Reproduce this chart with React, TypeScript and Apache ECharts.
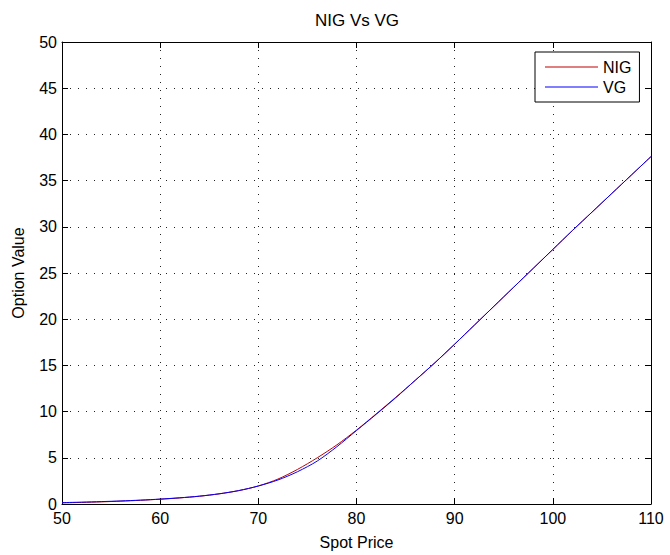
import React, { useEffect, useRef } from "react";
import * as echarts from "echarts";

const spot = [50, 52, 54, 56, 58, 60, 62, 64, 66, 68, 70, 72, 74, 76, 78, 80, 82, 84, 86, 88, 90, 92, 94, 96, 98, 100, 102, 104, 106, 108, 110];
const nigValues = [0.12, 0.17, 0.23, 0.31, 0.4, 0.52, 0.66, 0.84, 1.1, 1.45, 1.95, 2.7, 3.75, 5.0, 6.4, 8.0, 9.75, 11.55, 13.4, 15.3, 17.3, 19.35, 21.4, 23.45, 25.5, 27.55, 29.6, 31.6, 33.6, 35.6, 37.6];
const vgValues = [0.15, 0.2, 0.26, 0.33, 0.42, 0.53, 0.67, 0.85, 1.1, 1.45, 1.95, 2.6, 3.5, 4.65, 6.2, 7.95, 9.7, 11.5, 13.4, 15.3, 17.3, 19.35, 21.4, 23.45, 25.5, 27.55, 29.6, 31.6, 33.6, 35.6, 37.6];
const seriesNames = ["NIG", "VG"];
const titleText = "NIG Vs VG";
const xLabel = "Spot Price";
const yLabel = "Option Value";

const FONT = "'Liberation Sans', Arial, Helvetica, sans-serif";

export default function App() {
  const ref = useRef<HTMLDivElement>(null);
  useEffect(() => {
    if (!ref.current) return;
    const chart = echarts.init(ref.current, undefined, { renderer: "svg" });
    const nig = spot.map((x, i) => [x, nigValues[i]]);
    const vg = spot.map((x, i) => [x, vgValues[i]]);
    const gridLine = { show: true, lineStyle: { color: "#222", width: 1, type: [1, 7] as any } };
    const axisLine = { show: true, onZero: false, lineStyle: { color: "#000", width: 1 } };
    const tick = { show: true, inside: true, length: 6, lineStyle: { color: "#000" } };
    chart.setOption({
      animation: false,
      backgroundColor: "#fff",
      textStyle: { fontFamily: FONT },
      graphic: [
        {
          type: "text",
          x: 357,
          y: 12,
          style: {
            text: titleText,
            fill: "#000",
            fontSize: 17,
            fontFamily: FONT,
            textAlign: "center",
            textVerticalAlign: "top",
          },
        },
      ],
      grid: { left: 62, right: 19, top: 42, bottom: 49, containLabel: false },
      legend: {
        data: seriesNames,
        orient: "vertical",
        left: 535,
        top: 52,
        width: 99,
        padding: [6, 8, 6, 10],
        itemGap: 2,
        itemWidth: 53,
        itemHeight: 1,
        icon: "rect",
        borderColor: "#000",
        borderWidth: 1,
        backgroundColor: "#fff",
        textStyle: { fontSize: 16, color: "#000", fontFamily: FONT, lineHeight: 18 },
      },
      xAxis: [
        {
          type: "value",
          min: 50,
          max: 110,
          interval: 10,
          name: xLabel,
          nameLocation: "middle",
          nameGap: 30,
          nameTextStyle: { fontSize: 16, color: "#000", fontFamily: FONT },
          axisLine,
          axisTick: tick,
          axisLabel: { fontSize: 16, color: "#000", margin: 6, fontFamily: FONT },
          splitLine: gridLine,
        },
        {
          type: "value",
          min: 50,
          max: 110,
          interval: 10,
          position: "top",
          axisLine,
          axisTick: tick,
          axisLabel: { show: false },
          splitLine: { show: false },
        },
      ],
      yAxis: [
        {
          type: "value",
          min: 0,
          max: 50,
          interval: 5,
          name: yLabel,
          nameLocation: "middle",
          nameGap: 36,
          nameTextStyle: { fontSize: 16, color: "#000", fontFamily: FONT },
          axisLine,
          axisTick: tick,
          axisLabel: { fontSize: 16, color: "#000", margin: 5, fontFamily: FONT },
          splitLine: gridLine,
        },
        {
          type: "value",
          min: 0,
          max: 50,
          interval: 5,
          position: "right",
          axisLine,
          axisTick: tick,
          axisLabel: { show: false },
          splitLine: { show: false },
        },
      ],
      series: [
        {
          name: seriesNames[0],
          type: "line",
          data: nig,
          showSymbol: false,
          symbol: "none",
          color: "#c00000",
          lineStyle: { color: "#c00000", width: 1 },
          smooth: 0.3,
        },
        {
          name: seriesNames[1],
          type: "line",
          data: vg,
          showSymbol: false,
          symbol: "none",
          color: "#0000ff",
          lineStyle: { color: "#0000ff", width: 1 },
          smooth: 0.3,
        },
      ],
    });
    return () => chart.dispose();
  }, []);
  return <div ref={ref} style={{ position: "fixed", left: 0, top: 0, width: 670, height: 555 }} />;
}
